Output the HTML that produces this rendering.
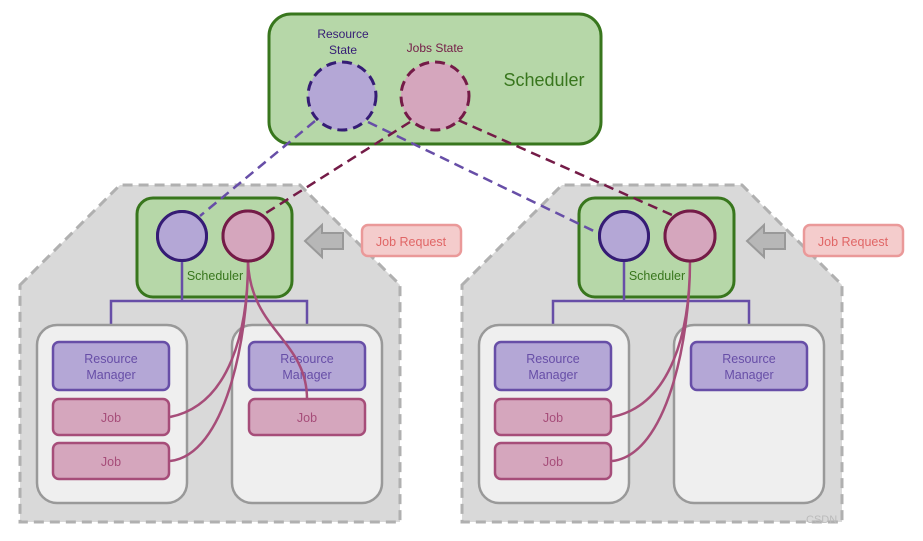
<!DOCTYPE html>
<html><head><meta charset="utf-8"><style>
html,body{margin:0;padding:0;background:#fff}
svg text{font-family:"Liberation Sans",sans-serif}
</style></head><body>
<svg width="923" height="536" viewBox="0 0 923 536" xmlns="http://www.w3.org/2000/svg">
<defs>
<g id="cluster">
  <polygon points="20,285 120,185 300,185 400,285 400,522 20,522" fill="#d9d9d9" stroke="#b0b0b0" stroke-width="3" stroke-dasharray="10,6"/>
  <rect x="137" y="198" width="155" height="99" rx="16" fill="#b6d7a8" stroke="#38761d" stroke-width="3"/>
  <text x="215" y="280" font-size="12.5" fill="#38761d" text-anchor="middle">Scheduler</text>
  <path d="M182,261 V301 M111,341 V301 H307 V341" fill="none" stroke="#674ea7" stroke-width="2.5"/>
  <rect x="37" y="325" width="150" height="178" rx="20" fill="#efefef" stroke="#999" stroke-width="2.5"/>
  <rect x="232" y="325" width="150" height="178" rx="20" fill="#efefef" stroke="#999" stroke-width="2.5"/>
  <rect x="53" y="342" width="116" height="48" rx="6" fill="#b4a7d6" stroke="#674ea7" stroke-width="2.5"/>
  <text x="111" y="363" font-size="12.5" fill="#674ea7" text-anchor="middle">Resource</text>
  <text x="111" y="379" font-size="12.5" fill="#674ea7" text-anchor="middle">Manager</text>
  <rect x="249" y="342" width="116" height="48" rx="6" fill="#b4a7d6" stroke="#674ea7" stroke-width="2.5"/>
  <text x="307" y="363" font-size="12.5" fill="#674ea7" text-anchor="middle">Resource</text>
  <text x="307" y="379" font-size="12.5" fill="#674ea7" text-anchor="middle">Manager</text>
  <rect x="53" y="399" width="116" height="36" rx="6" fill="#d5a6bd" stroke="#a64d79" stroke-width="2.5"/>
  <text x="111" y="422" font-size="12.5" fill="#a64d79" text-anchor="middle">Job</text>
  <rect x="53" y="443" width="116" height="36" rx="6" fill="#d5a6bd" stroke="#a64d79" stroke-width="2.5"/>
  <text x="111" y="466" font-size="12.5" fill="#a64d79" text-anchor="middle">Job</text>
  <path d="M248,261 C248,330 230,405 170,417 M248,261 C248,340 225,455 170,461" fill="none" stroke="#a64d79" stroke-width="2.5"/>
  <circle cx="182" cy="236" r="24.5" fill="#b4a7d6" stroke="#351c75" stroke-width="3"/>
  <circle cx="248" cy="236" r="25" fill="#d5a6bd" stroke="#741b47" stroke-width="3"/>
  <polygon points="305,241 322,225 322,233 343,233 343,249 322,249 322,257" fill="#b7b7b7" stroke="#999" stroke-width="2"/>
  <rect x="362" y="225" width="99" height="31" rx="6" fill="#f4cccc" stroke="#ea9999" stroke-width="2.5"/>
  <text x="411" y="246" font-size="12.5" fill="#e06666" text-anchor="middle">Job Request</text>
</g>
</defs>
<use href="#cluster"/>
<g transform="translate(442,0)"><use href="#cluster"/></g>
<rect x="249" y="399" width="116" height="36" rx="6" fill="#d5a6bd" stroke="#a64d79" stroke-width="2.5"/>
<text x="307" y="422" font-size="12.5" fill="#a64d79" text-anchor="middle">Job</text>
<path d="M248,261 C250,330 307,340 307,399" fill="none" stroke="#a64d79" stroke-width="2.5"/>
<circle cx="248" cy="236" r="25" fill="#d5a6bd" stroke="#741b47" stroke-width="3"/>
<text x="806" y="523" font-size="11" fill="#bbb">CSDN</text>
<rect x="269" y="14" width="332" height="130" rx="22" fill="#b6d7a8" stroke="#38761d" stroke-width="3"/>
<text x="544" y="86" font-size="18" fill="#38761d" text-anchor="middle">Scheduler</text>
<text x="343" y="38" font-size="12" fill="#351c75" text-anchor="middle">Resource</text>
<text x="343" y="54" font-size="12" fill="#351c75" text-anchor="middle">State</text>
<text x="435" y="52" font-size="12" fill="#741b47" text-anchor="middle">Jobs State</text>
<g fill="none" stroke-width="2.5" stroke-dasharray="10,6">
  <line x1="315" y1="121" x2="200" y2="216" stroke="#674ea7"/>
  <line x1="368" y1="122" x2="600" y2="234" stroke="#674ea7"/>
  <line x1="410" y1="122" x2="266" y2="213" stroke="#741b47"/>
  <line x1="458" y1="120" x2="672" y2="215" stroke="#741b47"/>
</g>
<circle cx="342" cy="96" r="34" fill="#b4a7d6" stroke="#351c75" stroke-width="3" stroke-dasharray="10,6"/>
<circle cx="435" cy="96" r="34" fill="#d5a6bd" stroke="#741b47" stroke-width="3" stroke-dasharray="10,6"/>
<circle cx="182" cy="236" r="24.5" fill="#b4a7d6" stroke="#351c75" stroke-width="3"/>
<circle cx="624" cy="236" r="24.5" fill="#b4a7d6" stroke="#351c75" stroke-width="3"/>
<circle cx="690" cy="236" r="25" fill="#d5a6bd" stroke="#741b47" stroke-width="3"/>
</svg>
</body></html>
